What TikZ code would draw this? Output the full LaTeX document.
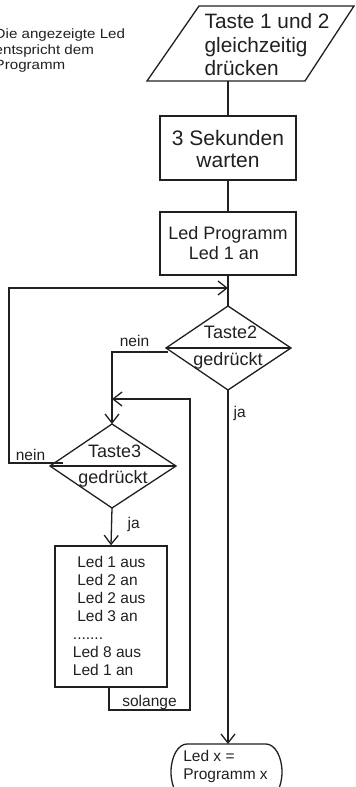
\documentclass[tikz,border=0pt]{standalone}
\usepackage{fontspec}
\setmainfont{Liberation Sans}
\usetikzlibrary{arrows.meta}
\definecolor{ink}{RGB}{35,31,32}
\begin{document}
\begin{tikzpicture}[x=1pt,y=-1pt,line width=1.3pt,
  shp/.style={draw=ink,line join=miter},
  conn/.style={draw=ink},
  arr/.style={draw=ink,-{Straight Barb[length=9pt,width=14pt,line width=1.3pt]}},
  lbl/.style={inner sep=0pt,text=ink},
  fA/.style={font={\fontsize{20.8}{24}\selectfont}},
  fB/.style={font={\fontsize{21}{24}\selectfont}},
  fC/.style={font={\fontsize{18}{21}\selectfont}},
  fD/.style={font={\fontsize{15.5}{18}\selectfont}},
  fN/.style={font={\fontsize{13.5}{16}\selectfont},xscale=1.12}]
\useasboundingbox (0,0) rectangle (356,787);

% note
\node[lbl,fN,anchor=base west] (n1) at (-6,38.5) {Die angezeigte Led};
\node[lbl,fN,anchor=base west] (n2) at (-6,54) {entspricht dem};
\node[lbl,fN,anchor=base west] (n3) at (-6,69.5) {Programm};

% parallelogram
\draw[shp] (199,6) -- (354,6) -- (305,81) -- (147,81) -- cycle;
\coordinate (pB) at (228,81);
\node[lbl,fA,anchor=base west] (p1) at (204,28) {Taste 1 und 2};
\node[lbl,fA,anchor=base west] (p2) at (204,52) {gleichzeitig};
\node[lbl,fA,anchor=base west] (p3) at (204,75.5) {drücken};

% box 2
\node[shp,minimum width=136pt,minimum height=64pt,inner sep=0pt] (b2) at (228,148) {};
\node[lbl,fB,anchor=base] (b2a) at (228,145) {3 Sekunden};
\node[lbl,fB,anchor=base] (b2b) at (228,167) {warten};

% box 3
\node[shp,minimum width=136pt,minimum height=63pt,inner sep=0pt] (b3) at (228,243.5) {};
\node[lbl,fC,anchor=base] (b3a) at (228,239) {Led Programm};
\node[lbl,fC,anchor=base] (b3b) at (224,259.3) {Led 1 an};

% diamond 1
\coordinate (d1t) at (228,306);
\coordinate (d1r) at (291,348);
\coordinate (d1b) at (228,390);
\coordinate (d1l) at (166,348);
\draw[shp] (d1t) -- (d1r) -- (d1b) -- (d1l) -- cycle;
\draw[shp] (d1l) -- (d1r);
\node[lbl,fC,anchor=base] (d1a) at (230.5,338) {Taste2};
\node[lbl,fC,anchor=base] (d1c) at (228,365) {gedrückt};

% diamond 2
\coordinate (d2t) at (112,424);
\coordinate (d2r) at (176,466);
\coordinate (d2b) at (112,508);
\coordinate (d2l) at (50,466);
\draw[shp] (d2t) -- (d2r) -- (d2b) -- (d2l) -- cycle;
\draw[shp] (d2l) -- (d2r);
\node[lbl,fC,anchor=base] (d2a) at (114.7,457.3) {Taste3};
\node[lbl,fC,anchor=base] (d2c) at (113,483.3) {gedrückt};

% box 4
\node[shp,minimum width=112pt,minimum height=141pt,inner sep=0pt] (b4) at (111,616.5) {};
\node[lbl,fD,anchor=base west] (l1) at (76.7,567.5) {Led 1 aus};
\node[lbl,fD,anchor=base west] (l2) at (76.7,585.5) {Led 2 an};
\node[lbl,fD,anchor=base west] (l3) at (76.7,603.5) {Led 2 aus};
\node[lbl,fD,anchor=base west] (l4) at (76.7,621.5) {Led 3 an};
\node[lbl,fD,anchor=base west] (l5) at (72.3,639.5) {.......};
\node[lbl,fD,anchor=base west] (l6) at (72.3,657.5) {Led 8 aus};
\node[lbl,fD,anchor=base west] (l7) at (72.3,675.5) {Led 1 an};

% terminator
\draw[shp] (187,744) -- (266,744) arc[start angle=-90,end angle=90,x radius=16,y radius=28]
  -- (187,800) arc[start angle=90,end angle=270,x radius=16,y radius=28] -- cycle;
\coordinate (tT) at (228,744);
\node[lbl,fD,anchor=base west] (t1) at (182.7,761.7) {Led x =};
\node[lbl,fD,anchor=base west] (t2) at (182.7,779.3) {Programm x};

% labels
\node[lbl,fD,anchor=base] (nein1) at (134.5,346.7) {nein};
\node[lbl,fD,anchor=base] (nein2) at (30.5,460) {nein};
\node[lbl,fD,anchor=base west] (ja1) at (233,417) {ja};
\node[lbl,fD,anchor=base west] (ja2) at (127,528) {ja};
\node[lbl,fD,anchor=base west] (sol) at (121.7,706) {solange};

% connector points
\coordinate (j1) at (228,288);
\coordinate (j2) at (112,399);
\coordinate (n1s) at (168,352);
\coordinate (n2s) at (63,463);
\coordinate (n2c) at (9,463);
\coordinate (s0) at (109,687);
\coordinate (s1) at (190,710);

% connectors
\draw[conn] (pB) -- (b2.north);
\draw[conn] (b2.south) -- (b3.north);
\draw[conn] (b3.south) -- (d1t);
\draw[arr] (n2s) -- (n2c) |- (j1);
\draw[arr] (n1s) -| (d2t);
\draw[arr] (d2b) -- (b4.north);
\draw[arr] (s0) |- (s1) |- (j2);
\draw[arr] (d1b) -- (tT);
\end{tikzpicture}
\end{document}
